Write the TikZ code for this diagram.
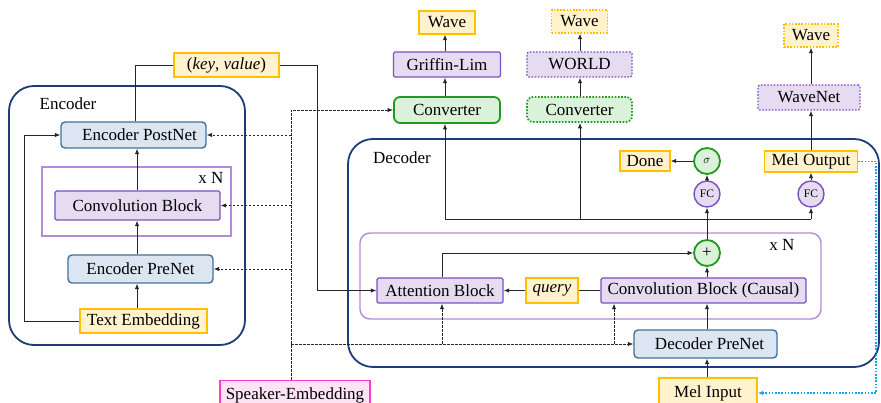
\documentclass[tikz,border=0pt]{standalone}
\usepackage{fontspec}
\setmainfont{Liberation Serif}
\usetikzlibrary{arrows.meta}
\definecolor{navy}{HTML}{1F3C7A}
\definecolor{bluefill}{HTML}{DCE6F2}
\definecolor{blueline}{HTML}{41709C}
\definecolor{purfill}{HTML}{E6DCF2}
\definecolor{purline}{HTML}{7E4FBF}
\definecolor{frameline}{HTML}{B58AD6}
\definecolor{yelfill}{HTML}{FFF2CC}
\definecolor{yelline}{HTML}{FFC000}
\definecolor{grnfill}{HTML}{DAF2DA}
\definecolor{grnline}{HTML}{229A22}
\definecolor{pinkfill}{HTML}{FCE4F4}
\definecolor{pinkline}{HTML}{FF3CC8}
\definecolor{cyanline}{HTML}{12A2EA}
\newcommand\mainfs{\fontsize{17}{19}\selectfont}
\newcommand\smallfs{\fontsize{11.5}{12}\selectfont}
\tikzset{
  box/.style={draw, line width=1.4pt, inner sep=0pt, font=\mainfs},
  bluebox/.style={box, draw=blueline, fill=bluefill, rounded corners=4pt},
  purbox/.style={box, draw=purline, fill=purfill, rounded corners=1.5pt},
  yelbox/.style={box, draw=yelline, fill=yelfill},
  grnbox/.style={box, draw=grnline, fill=grnfill, rounded corners=6pt, line width=1.8pt},
  pinkbox/.style={box, draw=pinkline, fill=pinkfill},
  dotbox/.style={dash pattern=on 1.6pt off 1.6pt},
  circ/.style={circle, draw, line width=1.4pt, minimum size=26pt, inner sep=0pt},
  container/.style={draw=navy, line width=1.8pt, rounded corners=25pt, inner sep=0pt},
  label/.style={font=\mainfs, inner sep=0pt},
  conn/.style={draw=black!85, line width=0.85pt},
  arr/.style={conn, -{Latex[length=5.5pt,width=4.5pt]}},
  dsh/.style={arr, dash pattern=on 2.5pt off 1.5pt},
  cyanarr/.style={draw=cyanline, line width=1.6pt, dash pattern=on 1.6pt off 1.6pt, -{Latex[length=5.5pt,width=4.5pt]}}
}
\begin{document}
\begin{tikzpicture}[x=1pt, y=-1pt]
\useasboundingbox (0,0) rectangle (881,403);
% containers
\node[container, minimum width=236pt, minimum height=259pt] (enc) at (127,215.5) {};
\node[label] (enclabel) at (68,104) {Encoder};
\node[container, minimum width=531pt, minimum height=228pt] (dec) at (613.5,253) {};
\node[label] (declabel) at (402,158) {Decoder};
% encoder frame
\node[draw=frameline, line width=1.4pt, minimum width=189pt, minimum height=69pt, inner sep=0pt] (encframe) at (136.5,201.5) {};
\node[label] (encN) at (211,178) {x N};
% decoder frame
\node[draw=frameline, line width=1.4pt, rounded corners=10pt, minimum width=461pt, minimum height=86pt, inner sep=0pt] (decframe) at (590.5,276) {};
\node[label] (decN) at (782,245) {x N};
% encoder nodes
\node[bluebox, minimum width=145pt, minimum height=26pt] (encpost) at (133.5,135) {\hspace{12pt}Encoder PostNet};
\node[purbox, minimum width=165pt, minimum height=29pt] (conv) at (137.5,205.5) {Convolution Block};
\node[bluebox, minimum width=145pt, minimum height=28pt] (encpre) at (140.5,269) {Encoder PreNet};
\node[yelbox, minimum width=127pt, minimum height=24pt] (textemb) at (143.5,321) {Text Embedding};
\node[yelbox, minimum width=105pt, minimum height=24pt] (keyval) at (226.5,65) {(\textit{key}, \textit{value})};
\node[pinkbox, minimum width=150pt, minimum height=29pt] (spk) at (295,395) {Speaker-Embedding};
% vocoder stacks
\node[grnbox, minimum width=106pt, minimum height=26pt] (conv1) at (447,110) {Converter};
\node[purbox, minimum width=107pt, minimum height=25pt] (griffin) at (447,64.5) {Griffin-Lim};
\node[yelbox, minimum width=56pt, minimum height=23pt] (wave1) at (447,22.5) {Wave};
\node[grnbox, dotbox, minimum width=105pt, minimum height=25pt] (conv2) at (579.5,109.5) {Converter};
\node[purbox, dotbox, minimum width=105pt, minimum height=25pt] (world) at (579.5,64.5) {WORLD};
\node[yelbox, dotbox, minimum width=56pt, minimum height=23pt] (wave2) at (579.5,21.5) {Wave};
\node[purbox, dotbox, minimum width=102pt, minimum height=25pt] (wavenet) at (809,97.5) {WaveNet};
\node[yelbox, dotbox, minimum width=54pt, minimum height=23pt] (wave3) at (811,35.5) {Wave};
% decoder nodes
\node[yelbox, minimum width=93pt, minimum height=21pt] (melout) at (811,161.5) {Mel Output};
\node[circ, draw=purline, fill=purfill, font=\smallfs] (fc2) at (811,194) {FC};
\node[circ, draw=purline, fill=purfill, font=\smallfs] (fc1) at (707,194) {FC};
\node[circ, draw=grnline, fill=grnfill, line width=1.8pt, font=\smallfs] (sigma) at (707,161) {$\sigma$};
\node[yelbox, minimum width=50pt, minimum height=20pt] (done) at (645,161) {Done};
\node[circ, draw=grnline, fill=grnfill, line width=1.8pt, font=\mainfs] (plus) at (707,253) {+};
\node[purbox, minimum width=126pt, minimum height=25pt] (att) at (440,290.5) {Attention Block};
\node[yelbox, minimum width=52pt, minimum height=25pt] (query) at (552,290.5) {\textit{query}};
\node[purbox, minimum width=205pt, minimum height=25pt] (convc) at (703.5,290.5) {Convolution Block (Causal)};
\node[bluebox, minimum width=143pt, minimum height=28pt] (decpre) at (705.5,344) {\hspace{8pt}Decoder PreNet};
\node[yelbox, minimum width=98pt, minimum height=30pt] (melin) at (708,393) {Mel Input};
% helper coordinates
\coordinate (encx) at (137,0);
\coordinate (kvx) at (135,0);
\coordinate (loopc) at (24,321);
\coordinate (kvcorner) at (317,290.5);
\coordinate (spkx) at (291,0);
\coordinate (attx) at (442,0);
\coordinate (ccx) at (614,0);
\coordinate (colx) at (707,0);
\coordinate (busL) at (445,219);
\coordinate (bus2) at (580,219);
\coordinate (busR) at (811,219);
\coordinate (bluex) at (876,0);
% encoder connectors
\draw[arr] (textemb.west) -- (loopc) |- (encpost.west);
\draw[arr] (encx |- textemb.north) -- (encx |- encpre.south);
\draw[arr] (encx |- encpre.north) -- (encx |- conv.south);
\draw[arr] (encx |- conv.north) -- (encx |- encpost.south);
\draw[conn] (kvx |- encpost.north) |- (keyval.west);
\draw[arr] (keyval.east) -| (kvcorner) -- (att.west);
% speaker embedding (dashed)
\draw[dsh] (spkx |- spk.north) |- (conv1.west);
\draw[dsh] (spkx |- encpost.east) -- (encpost.east);
\draw[dsh] (spkx |- conv.east) -- (conv.east);
\draw[dsh] (spkx |- encpre.east) -- (encpre.east);
\draw[dsh] (spkx |- decpre.west) -- (decpre.west);
\draw[dsh] (attx |- decpre.west) -- (attx |- att.south);
\draw[dsh] (ccx |- decpre.west) -- (ccx |- convc.south);
% decoder connectors
\draw[arr] (colx |- melin.north) -- (colx |- decpre.south);
\draw[arr] (colx |- decpre.north) -- (colx |- convc.south);
\draw[arr] (colx |- convc.north) -- (plus.south);
\draw[arr] (attx |- att.north) |- (plus.west);
\draw[conn] (convc.west) -- (query.east);
\draw[arr] (query.west) -- (att.east);
\draw[arr] (plus.north) -- (fc1.south);
\draw[conn] (busL) -- (busR);
\draw[arr] (busR) -- (fc2.south);
\draw[arr] (busL) -- (busL |- conv1.south);
\draw[arr] (bus2) -- (bus2 |- conv2.south);
\draw[arr] (fc1.north) -- (sigma.south);
\draw[arr] (sigma.west) -- (done.east);
\draw[arr] (fc2.north) -- (melout.south);
\draw[arr] (melout.north -| wave3) -- (wavenet.south -| wave3);
\draw[arr] (wavenet.north -| wave3) -- (wave3.south);
\draw[cyanarr] (melout.east) -- (bluex |- melout.east) -- (bluex |- melin.east) -- (melin.east);
% vocoder stacks
\draw[arr] (busL |- conv1.north) -- (busL |- griffin.south);
\draw[arr] (busL |- griffin.north) -- (busL |- wave1.south);
\draw[arr] (bus2 |- conv2.north) -- (bus2 |- world.south);
\draw[arr] (bus2 |- world.north) -- (bus2 |- wave2.south);
\end{tikzpicture}
\end{document}
